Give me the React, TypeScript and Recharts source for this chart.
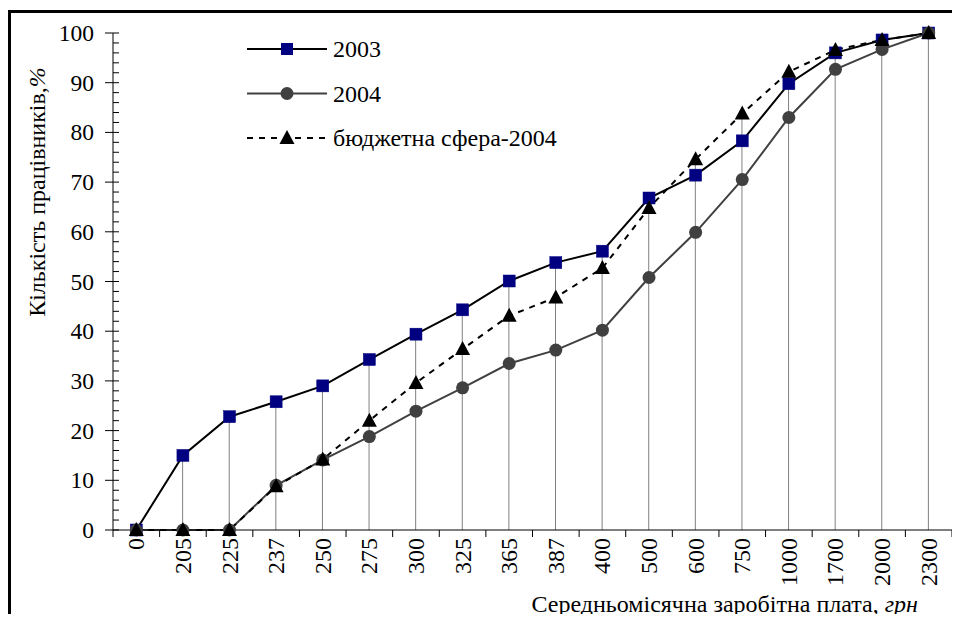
import React from "react";
import { ComposedChart, Line, Bar, XAxis, YAxis } from "recharts";

const wages = ["0", "205", "225", "237", "250", "275", "300", "325", "365", "387", "400", "500", "600", "750", "1000", "1700", "2000", "2300"];
const share2003 = [0, 15, 22.8, 25.8, 29, 34.3, 39.4, 44.3, 50.1, 53.8, 56.1, 66.8, 71.4, 78.3, 89.8, 96, 98.6, 100];
const share2004 = [0, 0, 0, 9, 14.1, 18.8, 23.9, 28.6, 33.5, 36.2, 40.2, 50.8, 59.9, 70.5, 83, 92.7, 96.7, 100];
const shareBudget2004 = [0, 0, 0, 8.8, 14.2, 22, 29.6, 36.4, 43.1, 46.8, 52.7, 64.8, 74.6, 83.8, 92.2, 96.6, 98.6, 100];
const yTicks = [0, 2, 4, 6, 8, 10, 12, 14, 16, 18, 20, 22, 24, 26, 28, 30, 32, 34, 36, 38, 40, 42, 44, 46, 48, 50, 52, 54, 56, 58, 60, 62, 64, 66, 68, 70, 72, 74, 76, 78, 80, 82, 84, 86, 88, 90, 92, 94, 96, 98, 100];

const data = wages.map((w, i) => ({
  wage: w,
  s2003: share2003[i],
  s2004: share2004[i],
  budget: shareBudget2004[i],
  top: Math.max(share2003[i], share2004[i], shareBudget2004[i]),
}));

const FONT = "'Liberation Serif', 'Times New Roman', serif";
const BAND = (952 - 113) / wages.length;
const txt = { fontFamily: FONT };

const DropLine = (props: any) => {
  const { x, y, width, height } = props;
  if (!height) return null;
  const cx = x + width / 2;
  return <line x1={cx} x2={cx} y1={y} y2={y + height} stroke="#808080" strokeWidth={1} />;
};

const Square = (props: any) => {
  const { cx, cy, index } = props;
  return <rect key={`sq-${index}`} x={cx - 6} y={cy - 6} width={12} height={12} fill="#000080" stroke="#000080" strokeWidth={0.5} />;
};

const Dot = (props: any) => {
  const { cx, cy, index } = props;
  return <circle key={`ci-${index}`} cx={cx} cy={cy} r={6.5} fill="#404040" />;
};

const Tri = (props: any) => {
  const { cx, cy, index } = props;
  return (
    <polygon
      key={`tr-${index}`}
      points={`${cx},${cy - 8} ${cx + 7.5},${cy + 6} ${cx - 7.5},${cy + 6}`}
      fill="#000"
    />
  );
};

const XTick = (props: any) => {
  const { x, y, payload, index } = props;
  return (
    <g>
      {index === 0 && <line x1={x - BAND / 2} x2={x - BAND / 2} y1={y} y2={y + 7} stroke="#000" />}
      <line x1={x + BAND / 2} x2={x + BAND / 2} y1={y} y2={y + 7} stroke="#000" />
      <text
        x={0}
        y={0}
        transform={`translate(${x + 8}, ${y + 8}) rotate(-90)`}
        textAnchor="end"
        fontSize={24}
        style={txt}
        fill="#000"
      >
        {payload.value}
      </text>
    </g>
  );
};

const YTick = (props: any) => {
  const { x, y, payload } = props;
  const major = payload.value % 10 === 0;
  return (
    <g>
      <line x1={major ? x - 8 : x} x2={x + 6} y1={y} y2={y} stroke="#000" />
      {major && (
        <text x={x - 19} y={y + 8} textAnchor="end" fontSize={23.5} style={txt} fill="#000">
          {payload.value}
        </text>
      )}
    </g>
  );
};

const legendRows = [
  { name: "2003", color: "#000", dash: undefined, marker: "square" },
  { name: "2004", color: "#404040", dash: undefined, marker: "circle" },
  { name: "бюджетна сфера-2004", color: "#000", dash: "6 6", marker: "triangle" },
];

const LegendBox = () => (
  <svg width={360} height={130} style={{ position: "absolute", left: 247, top: 35 }}>
    {legendRows.map((r, i) => {
      const y = 14 + i * 44.5;
      return (
        <g key={r.name}>
          <line x1={0} x2={80} y1={y} y2={y} stroke={r.color} strokeWidth={2} strokeDasharray={r.dash} />
          {r.marker === "square" && <rect x={34} y={y - 6} width={12} height={12} fill="#000080" />}
          {r.marker === "circle" && <circle cx={40} cy={y} r={6.5} fill="#404040" />}
          {r.marker === "triangle" && <polygon points={`40,${y - 8} 47.5,${y + 6} 32.5,${y + 6}`} fill="#000" />}
          <text x={86} y={y + 8} fontSize={24} style={txt} fill="#000">
            {r.name}
          </text>
        </g>
      );
    })}
  </svg>
);

export default function App() {
  return (
    <div style={{ position: "relative", width: 960, height: 622, margin: -8, overflow: "hidden", background: "#fff", fontFamily: FONT }}>
      <div
        style={{
          position: "absolute",
          left: 8,
          top: 10,
          width: 980,
          height: 640,
          borderLeft: "3px solid #000",
          borderTop: "3px solid #000",
        }}
      />
      <div style={{ position: "absolute", left: 0, top: 0 }}>
        <ComposedChart
          width={960}
          height={622}
          data={data}
          margin={{ top: 33, right: 8, bottom: 32, left: 53 }}
          barCategoryGap={0}
        >
          <XAxis
            dataKey="wage"
            height={60}
            tickSize={0}
            tickMargin={0}
            tickLine={false}
            axisLine={{ stroke: "#000" }}
            tick={<XTick />}
            interval={0}
            label={(p: any) => {
              const vb = p.viewBox;
              return (
                <text x={vb.x + vb.width - 34} y={vb.y + 82} textAnchor="end" fontSize={24} style={txt} fill="#000">
                  Середньомісячна заробітна плата, <tspan fontStyle="italic">грн</tspan>
                </text>
              );
            }}
          />
          <YAxis
            width={60}
            domain={[0, 100]}
            ticks={yTicks}
            interval={0}
            tickSize={0}
            tickMargin={0}
            tickLine={false}
            axisLine={{ stroke: "#000" }}
            tick={<YTick />}
            label={() => (
              <text
                x={0}
                y={0}
                transform="translate(45, 192) rotate(-90)"
                textAnchor="middle"
                fontSize={24}
                style={txt}
                fill="#000"
              >
                Кількість працівників,<tspan fontStyle="italic">%</tspan>
              </text>
            )}
          />
          <Bar dataKey="top" barSize={2} shape={<DropLine />} isAnimationActive={false} legendType="none" />
          <Line dataKey="s2003" stroke="#000" strokeWidth={2} dot={<Square />} activeDot={false} isAnimationActive={false} />
          <Line dataKey="s2004" stroke="#404040" strokeWidth={2} dot={<Dot />} activeDot={false} isAnimationActive={false} />
          <Line
            dataKey="budget"
            stroke="#000"
            strokeWidth={2}
            strokeDasharray="6 6"
            dot={<Tri />}
            activeDot={false}
            isAnimationActive={false}
          />
        </ComposedChart>
      </div>
      <LegendBox />
    </div>
  );
}
